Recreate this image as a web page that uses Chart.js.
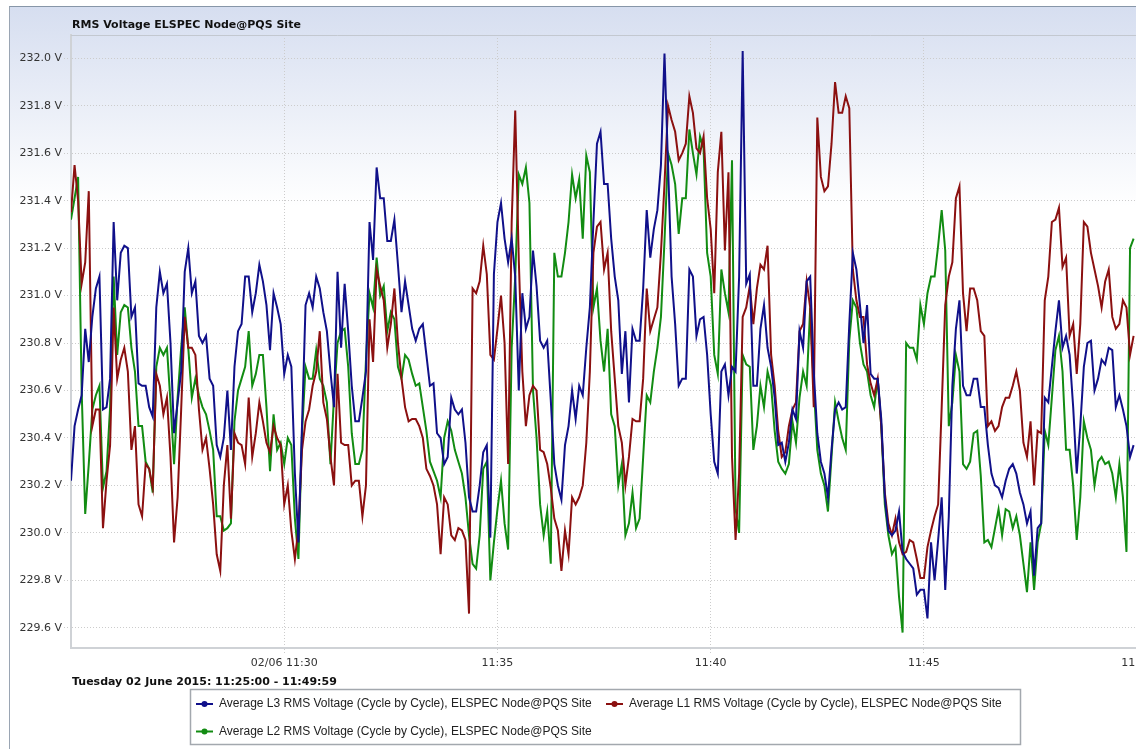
<!DOCTYPE html>
<html>
<head>
<meta charset="utf-8">
<title>RMS Voltage ELSPEC Node@PQS Site</title>
<script src="https://cdn.jsdelivr.net/npm/chart.js@4.4.0/dist/chart.umd.min.js"></script>
<style>
  html, body { margin: 0; padding: 0; background: #fff; overflow: hidden; width: 1136px; height: 749px; }
  #frame {
    position: absolute; left: 9px; top: 6px; width: 1146px; height: 743px;
    border-top: 1px solid #8796a8; border-left: 1px solid #9aa5b3;
    background: linear-gradient(to bottom, #d6def0 0px, #ffffff 200px);
  }
  #frame canvas { display: block; }
</style>
</head>
<body>
<div id="frame"><canvas id="myChart" width="1146" height="742"></canvas></div>
<script>
// chart texts
const chartTitle = 'RMS Voltage ELSPEC Node@PQS Site';
const rangeText = 'Tuesday 02 June 2015: 11:25:00 - 11:49:59';
const seriesNames = [
  'Average L3 RMS Voltage (Cycle by Cycle), ELSPEC Node@PQS Site',
  'Average L1 RMS Voltage (Cycle by Cycle), ELSPEC Node@PQS Site',
  'Average L2 RMS Voltage (Cycle by Cycle), ELSPEC Node@PQS Site'
];

// samples every 5 s from 11:25:00
const sampleStep = 5;

// tick labels (x in seconds after 11:25:00)
const xTickValues = [300, 600, 900, 1200, 1500];
const xTickLabels = ['02/06 11:30', '11:35', '11:40', '11:45', '11:50'];
const yTickValues = [229.6, 229.8, 230.0, 230.2, 230.4, 230.6, 230.8, 231.0, 231.2, 231.4, 231.6, 231.8, 232.0];

// L3
const l3Values = [
  230.22, 230.45, 230.52, 230.58, 230.86, 230.72, 230.91, 231.03, 231.08, 230.52,
  230.53, 230.65, 231.31, 230.98, 231.18, 231.21, 231.2, 230.91, 230.95, 230.63,
  230.62, 230.62, 230.53, 230.49, 230.95, 231.1, 231.01, 231.05, 230.8, 230.42,
  230.55, 230.68, 231.1, 231.2, 231.01, 231.06, 230.83, 230.8, 230.83, 230.65,
  230.62, 230.37, 230.32,
  230.4, 230.6, 230.35, 230.7, 230.85, 230.88, 231.08, 231.08, 230.93, 231.01,
  231.13, 231.06, 230.96, 230.77, 231.01, 230.95, 230.88, 230.67, 230.75, 230.7,
  230.25, 229.96, 230.45, 230.96, 231.01, 230.95, 231.08, 231.03, 230.93, 230.85,
  230.68, 230.53, 231.1, 230.78, 231.05, 230.85, 230.62, 230.47, 230.47, 230.57,
  230.68, 231.31, 231.15,
  231.54, 231.41, 231.41, 231.23, 231.23, 231.32, 231.13, 230.93, 231.06, 230.96,
  230.86, 230.81, 230.86, 230.88, 230.75, 230.62, 230.63, 230.42, 230.4, 230.29,
  230.32, 230.57, 230.52, 230.5, 230.52, 230.38, 230.15, 230.09, 230.09, 230.2,
  230.34, 230.37, 229.98, 231.09, 231.31, 231.39, 231.24, 231.14, 231.24, 231.08,
  230.6, 231.01, 230.86,
  230.91, 231.19, 231.04, 230.81, 230.78, 230.81, 230.56, 230.29, 230.2, 230.14,
  230.37, 230.45, 230.6, 230.48, 230.62, 230.58, 230.78, 230.95, 231.31, 231.64,
  231.69, 231.47, 231.47, 231.24, 231.08, 230.98, 230.67, 230.85, 230.55, 230.86,
  230.81, 230.81, 231.03, 231.36, 231.16, 231.28, 231.36, 231.55, 232.02, 231.55,
  231.08, 230.88, 230.62,
  230.65, 230.65, 231.11, 231.08, 230.83, 230.9, 230.91, 230.75, 230.5, 230.3,
  230.25, 230.68, 230.71, 230.58, 230.7, 230.68, 231.08, 232.03, 231.05, 231.09,
  230.62, 230.62, 230.86, 230.96, 230.78, 230.7, 230.57, 230.37, 230.38, 230.3,
  230.38, 230.52, 230.48, 230.85, 230.78, 231.06, 231.08, 230.68, 230.42, 230.3,
  230.25, 230.15, 230.35,
  230.52, 230.55, 230.52, 230.53, 230.88, 231.18, 231.11, 230.96, 230.8, 230.96,
  230.67, 230.65, 230.65, 230.48, 230.15, 230.01, 229.99, 230.01, 230.09, 229.92,
  229.89, 229.87, 229.85, 229.74, 229.76, 229.76, 229.64, 229.96, 229.8, 229.97,
  230.15, 229.76, 230.07, 230.62, 230.86, 230.98, 230.62, 230.58, 230.58, 230.65,
  230.65, 230.53, 230.53,
  230.37, 230.25, 230.2, 230.19, 230.15, 230.22, 230.27, 230.29, 230.25, 230.17,
  230.12, 230.04, 230.09, 229.82, 230.02, 230.04, 230.57, 230.55, 230.7, 230.85,
  230.98, 230.78, 230.83, 230.75, 230.53, 230.25, 230.45, 230.7, 230.8, 230.81,
  230.6, 230.65, 230.73, 230.71, 230.78, 230.77, 230.53, 230.58, 230.52, 230.45,
  230.32, 230.37
];

// L1
const l1Values = [
  231.35, 231.55, 231.4, 231.05, 231.14, 231.44, 230.45, 230.52, 230.52, 230.02,
  230.22, 230.37, 230.95, 230.65, 230.73, 230.78, 230.68, 230.35, 230.45, 230.12,
  230.07, 230.29, 230.27, 230.19, 230.67, 230.62, 230.5, 230.57, 230.32, 229.96,
  230.15, 230.52, 230.91, 230.78, 230.78, 230.75, 230.52, 230.35, 230.4, 230.27,
  230.12, 229.91, 229.84,
  230.2, 230.37, 230.06, 230.42, 230.38, 230.37, 230.29, 230.57, 230.32, 230.42,
  230.55, 230.47, 230.38, 230.34, 230.45, 230.4, 230.37, 230.12, 230.2, 230.01,
  229.89, 230.02, 230.35, 230.47, 230.52, 230.62, 230.68, 230.85, 230.55, 230.48,
  230.32, 230.2, 230.67, 230.38, 230.37, 230.37, 230.2, 230.22, 230.22, 230.07,
  230.2, 230.9, 230.72,
  231.11, 231.04, 230.98, 230.78, 230.88, 231.03, 230.8, 230.65, 230.53, 230.47,
  230.48, 230.48, 230.45, 230.4, 230.27, 230.24, 230.2, 230.12, 229.91, 230.15,
  230.12, 229.99, 229.97, 230.02, 230.01, 229.97, 229.66, 231.03, 231.01, 231.06,
  231.21, 231.09, 230.75, 230.73, 230.86, 231.0, 230.8, 230.29, 231.31, 231.78,
  231.15, 230.68, 230.45,
  230.58, 230.62, 230.6, 230.35, 230.34, 230.29, 230.19, 230.06, 230.01, 229.84,
  230.01, 229.91, 230.15, 230.12, 230.15, 230.2, 230.38, 230.68, 231.18, 231.29,
  231.31, 231.11, 231.18, 230.85, 230.65, 230.45, 230.38, 230.2, 230.32, 230.48,
  230.47, 230.47, 230.65, 231.03, 230.85, 230.9, 230.95, 231.18, 231.47, 231.8,
  231.74, 231.69, 231.57,
  231.6, 231.64, 231.84, 231.77, 231.62, 231.6, 231.67, 231.41, 231.28, 231.01,
  231.52, 231.69, 231.19, 231.52, 230.32, 229.97, 230.25, 230.91, 230.95, 231.04,
  230.88, 231.03, 231.13, 231.11, 231.21, 230.75, 230.62, 230.43, 230.32, 230.34,
  230.45, 230.52, 230.55, 230.85, 230.88, 231.06, 230.95, 230.53, 231.75, 231.5,
  231.44, 231.46, 231.64,
  231.9, 231.77, 231.77, 231.84, 231.79, 231.11, 230.98, 230.91, 230.91, 230.71,
  230.63, 230.58, 230.65, 230.45, 230.17, 230.04, 229.99, 230.06, 229.96, 229.91,
  229.92, 229.97, 229.96, 229.89, 229.81, 229.81, 229.94, 230.01, 230.07, 230.12,
  230.53, 230.96, 231.08, 231.14, 231.41, 231.46, 231.01, 230.85, 231.03, 231.03,
  230.98, 230.85, 230.83,
  230.45, 230.47, 230.43, 230.45, 230.53, 230.57, 230.57, 230.62, 230.68, 230.6,
  230.38, 230.32, 230.47, 230.2, 230.43, 230.42, 230.98, 231.08, 231.31, 231.32,
  231.37, 231.12, 231.16, 230.83, 230.88, 230.67, 230.88, 231.31, 231.29, 231.18,
  231.11, 231.04, 230.95, 231.06, 231.11, 230.91, 230.86, 230.88, 230.98, 230.95,
  230.75, 230.83
];

// L2
const l2Values = [
  231.32, 231.41, 231.5, 230.6, 230.08, 230.29, 230.52, 230.58, 230.62, 230.19,
  230.26, 230.53, 231.08, 230.75, 230.93, 230.96, 230.95, 230.78, 230.68, 230.45,
  230.45, 230.3, 230.27, 230.17, 230.7, 230.78, 230.75, 230.78, 230.55, 230.29,
  230.57, 230.78, 230.95, 230.78, 230.57, 230.65, 230.58, 230.53, 230.5, 230.43,
  230.35, 230.07, 230.07,
  230.01, 230.02, 230.04, 230.47, 230.6, 230.65, 230.7, 230.85, 230.62, 230.67,
  230.75, 230.75, 230.53, 230.26, 230.5, 230.35, 230.38, 230.29, 230.4, 230.37,
  230.06, 229.89, 230.42, 230.7, 230.65, 230.65, 230.77, 230.65, 230.62, 230.55,
  230.29, 230.57, 230.8, 230.85, 230.86, 230.7, 230.42, 230.29, 230.29, 230.35,
  230.73, 231.01, 230.95,
  231.16, 231.0, 231.04, 230.85, 230.93, 230.9, 230.7, 230.65, 230.75, 230.73,
  230.67, 230.62, 230.63, 230.53, 230.43, 230.3, 230.26, 230.22, 230.15, 230.4,
  230.47, 230.43, 230.35, 230.3, 230.25, 230.15, 229.99, 229.87, 229.85, 229.99,
  230.27, 230.3, 229.8, 229.96, 230.1, 230.22, 230.04, 229.93, 230.78, 231.08,
  231.51, 231.47, 231.54,
  231.39, 230.6, 230.4, 230.12, 229.99, 230.09, 229.87, 231.18, 231.08, 231.08,
  231.18, 231.31, 231.51, 231.41, 231.49, 231.24, 231.59, 231.52, 230.95, 231.03,
  230.81, 230.68, 230.86, 230.5, 230.45, 230.2, 230.29, 229.99, 230.04, 230.17,
  230.02, 230.06, 230.32, 230.58, 230.55, 230.68, 230.78, 230.91, 231.23, 231.6,
  231.55, 231.47, 231.26,
  231.41, 231.41, 231.7, 231.6, 231.51, 231.67, 231.62, 231.18, 231.08, 230.75,
  230.67, 231.11, 231.01, 230.93, 231.57, 230.1, 230.0, 230.75, 230.71, 230.7,
  230.35, 230.45, 230.62, 230.53, 230.68, 230.62, 230.43, 230.3, 230.27, 230.25,
  230.29, 230.47, 230.38, 230.57, 230.68, 230.62, 230.95, 230.62, 230.35, 230.25,
  230.2, 230.09, 230.32,
  230.55, 230.47, 230.4, 230.35, 230.81, 230.98, 230.95, 230.8, 230.71, 230.68,
  230.58, 230.53, 230.65, 230.45, 230.12, 229.99, 229.91, 229.94, 229.73, 229.58,
  230.8, 230.78, 230.78, 230.73, 230.96, 230.88, 231.01, 231.08, 231.08, 231.21,
  231.36, 231.19, 230.45, 230.55, 230.75, 230.68, 230.29, 230.27, 230.3, 230.42,
  230.43, 230.24, 229.96,
  229.97, 229.94, 230.02, 230.1, 229.99, 230.1, 230.09, 230.02, 230.07, 229.99,
  229.87, 229.75, 229.96, 229.76, 229.96, 230.04, 230.43, 230.37, 230.57, 230.77,
  230.83, 230.68, 230.35, 230.35, 230.2, 229.97, 230.15, 230.47, 230.4, 230.35,
  230.2, 230.3, 230.32, 230.29, 230.3, 230.25, 230.15, 230.29, 230.15, 229.92,
  231.2, 231.24
];

const lineColors = ['#10108a', '#8b1010', '#128c12'];


function toPoints(values) {
    return values.map(function (v, i) {
        return { x: i * sampleStep, y: v };
    });
}

// title, range text, top edge and legend box
const decorPlugin = {
    id: 'decor',
    afterDraw(chart) {
        const ctx = chart.ctx;
        const area = chart.chartArea;
        ctx.save();

        ctx.strokeStyle = '#c3c8d0';
        ctx.lineWidth = 1;
        ctx.beginPath();
        ctx.moveTo(area.left, area.top + 0.5);
        ctx.lineTo(area.right, area.top + 0.5);
        ctx.stroke();

        ctx.fillStyle = '#111';
        ctx.textBaseline = 'middle';
        ctx.textAlign = 'left';
        ctx.font = 'bold 11px "DejaVu Sans", sans-serif';
        ctx.fillText(chartTitle, area.left + 1, area.top - 9.5);
        ctx.fillText(rangeText, area.left + 1, area.bottom + 34);

        // legend
        const bx = 180.5, by = 682.5, bw = 830, bh = 55;
        ctx.fillStyle = '#fff';
        ctx.fillRect(bx, by, bw, bh);
        ctx.strokeStyle = '#a3a8ae';
        ctx.lineWidth = 1.5;
        ctx.strokeRect(bx, by, bw, bh);

        const slots = [[186, 697], [596, 697], [186, 724.5]];
        ctx.font = '12px "Liberation Sans", Arial, sans-serif';
        chart.data.datasets.forEach(function (ds, i) {
            const sx = slots[i][0], sy = slots[i][1];
            ctx.strokeStyle = ds.borderColor;
            ctx.lineWidth = 2;
            ctx.beginPath();
            ctx.moveTo(sx, sy);
            ctx.lineTo(sx + 17, sy);
            ctx.stroke();
            ctx.fillStyle = ds.borderColor;
            ctx.beginPath();
            ctx.arc(sx + 8.5, sy, 3, 0, Math.PI * 2);
            ctx.fill();
            ctx.fillStyle = '#222';
            ctx.fillText(ds.label, sx + 23, sy);
        });
        ctx.restore();
    }
};

window.onload = function () {
    const ctx = document.getElementById('myChart');

    const myChart = new Chart(ctx, {
        type: 'line',
        data: {
            datasets: [l3Values, l1Values, l2Values].map(function (vals, i) {
                return {
                    label: seriesNames[i],
                    data: toPoints(vals),
                    borderColor: lineColors[i],
                    backgroundColor: lineColors[i],
                    borderWidth: 2,
                    pointRadius: 0,
                    tension: 0,
                    fill: false
                };
            })
        },
        options: {
            responsive: false,
            animation: false,
            layout: { padding: { top: 28, left: 0, right: 0, bottom: 79 } },
            plugins: {
                legend: { display: false },
                tooltip: { enabled: false },
                title: { display: false }
            },
            scales: {
                x: {
                    type: 'linear',
                    min: 0,
                    max: 1500,
                    afterBuildTicks: function (scale) {
                        scale.ticks = xTickValues.map(function (v) { return { value: v }; });
                    },
                    afterFit: function (scale) { scale.height = 22; },
                    ticks: {
                        autoSkip: false,
                        maxRotation: 0,
                        padding: 3,
                        color: '#333',
                        font: { family: 'DejaVu Sans', size: 11 },
                        callback: function (value) {
                            const i = xTickValues.indexOf(value);
                            return i >= 0 ? xTickLabels[i] : '';
                        }
                    },
                    grid: {
                        color: '#cccccc',
                        lineWidth: 1,
                        tickLength: 6,
                        tickColor: '#cccccc',
                        tickBorderDash: [1, 2]
                    },
                    border: { display: true, color: '#cfd2d6', width: 2, dash: [1, 2] }
                },
                y: {
                    min: 229.515,
                    max: 232.098,
                    afterBuildTicks: function (scale) {
                        scale.ticks = yTickValues.map(function (v) { return { value: v }; });
                    },
                    afterFit: function (scale) { scale.width = 61; },
                    ticks: {
                        padding: 2,
                        color: '#333',
                        font: { family: 'DejaVu Sans', size: 11 },
                        callback: function (value) { return value.toFixed(1) + ' V'; }
                    },
                    grid: {
                        color: '#cccccc',
                        lineWidth: 1,
                        tickLength: 7,
                        tickColor: '#cccccc',
                        tickBorderDash: [1, 2]
                    },
                    border: { display: true, color: '#cfd2d6', width: 2, dash: [1, 2] }
                }
            }
        },
        plugins: [decorPlugin]
    });
};
</script>
</body>
</html>
